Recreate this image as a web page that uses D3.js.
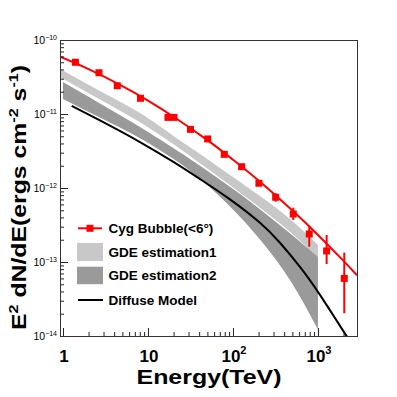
<!DOCTYPE html>
<html>
<head>
<meta charset="utf-8">
<script src="https://cdn.jsdelivr.net/npm/d3@7"></script>
<style>
  body { margin: 0; background: #fff; }
  text { font-family: "Liberation Sans", Arial, sans-serif; }
</style>
</head>
<body>
<div class="chart"></div>
<script>
// Cyg Bubble spectrum points (TeV, erg cm-2 s-1)
const cygE    = [1.40, 2.65, 4.35, 8.16, 17.2, 20.2, 31.6, 50.4, 79, 126.5, 202, 318, 512, 790, 1265, 2040];
const cygFlux = [5.0e-11, 3.61e-11, 2.41e-11, 1.63e-11, 9.0e-12, 9.0e-12, 6.2e-12, 4.6e-12, 2.85e-12, 1.94e-12, 1.16e-12, 7.5e-13, 4.45e-13, 2.39e-13, 1.41e-13, 6.0e-14];
const cygLow  = [5.0e-11, 3.61e-11, 2.41e-11, 1.63e-11, 9.0e-12, 9.0e-12, 6.2e-12, 4.6e-12, 2.85e-12, 1.94e-12, 1.16e-12, 6.53e-13, 3.7e-13, 1.61e-13, 9.4e-14, 2.03e-14];
const cygHigh = [5.0e-11, 3.61e-11, 2.41e-11, 1.63e-11, 9.0e-12, 9.0e-12, 6.2e-12, 4.6e-12, 2.85e-12, 1.94e-12, 1.16e-12, 8.48e-13, 5.42e-13, 3.06e-13, 2.32e-13, 1.34e-13];

// fitted curve through the points
const fitE    = [0.922, 2, 5, 10, 20, 50, 100, 200, 500, 1000, 2000, 2880];
const fitFlux = [5.95e-11, 4.04e-11, 2.385e-11, 1.52e-11, 9.19e-12, 4.43e-12, 2.41e-12, 1.26e-12, 4.95e-13, 2.32e-13, 1.035e-13, 6.61e-14];

// GDE estimation bands
const gde1E  = [0.922, 2.72, 8.05, 20.8, 40.9, 92.2, 207.8, 468, 1000];
const gde1Hi = [4.05e-11, 2.05e-11, 1.03e-11, 4.89e-12, 2.88e-12, 1.50e-12, 7.80e-13, 3.81e-13, 1.70e-13];
const gde1Lo = [3.16e-11, 1.576e-11, 7.75e-12, 3.78e-12, 2.16e-12, 1.09e-12, 5.42e-13, 2.57e-13, 1.14e-13];
const gde2E  = [1, 2.72, 8.05, 20.8, 40.9, 92.2, 207.8, 468, 1000];
const gde2Hi = [2.70e-11, 1.387e-11, 6.65e-12, 3.34e-12, 2.0e-12, 1.04e-12, 5.17e-13, 2.45e-13, 1.17e-13];
const gde2Lo = [1.60e-11, 8.97e-12, 4.70e-12, 2.39e-12, 1.33e-12, 5.64e-13, 2.02e-13, 5.73e-14, 1.22e-14];

// diffuse model
const diffE    = [1.266, 2.72, 8.05, 20.8, 40.9, 92.2, 207.8, 357, 614, 1056, 2254, 2512];
const diffFlux = [1.29e-11, 8.19e-12, 4.18e-12, 2.18e-12, 1.32e-12, 7.02e-13, 3.39e-13, 1.82e-13, 8.61e-14, 3.6e-14, 9.33e-15, 7.69e-15];

// axis ticks
const xMajor = [1, 10, 100, 1000];
const xLabels = [["1", ""], ["10", ""], ["10", "2"], ["10", "3"]];
const yMajor = [1e-10, 1e-11, 1e-12, 1e-13, 1e-14];
const yLabels = ["-10", "-11", "-12", "-13", "-14"];

const legendItems = ["Cyg Bubble(<6\u00b0)", "GDE estimation1", "GDE estimation2", "Diffuse Model"];

const W = 397, H = 397;
const margin = {left: 60, right: 40, top: 40, bottom: 61};
const red = "#ff0000", light = "#c8c8c8", dark = "#9a9a9a";

const svg = d3.select('.chart').append('svg').attr('width', W).attr('height', H);

const x = d3.scaleLog().domain([0.922, 2880]).range([margin.left, W - margin.right]);
const y = d3.scaleLog().domain([1e-14, 1e-10]).range([H - margin.bottom, margin.top]);

svg.append('clipPath').attr('id', 'plot')
	.append('rect')
	.attr('x', margin.left).attr('y', margin.top)
	.attr('width', W - margin.left - margin.right)
	.attr('height', H - margin.top - margin.bottom);

const plot = svg.append('g').attr('clip-path', 'url(#plot)');

function zip(a, b, c) { return a.map((v, i) => [v, b[i], c ? c[i] : null]); }

const band = d3.area()
	.x(d => x(d[0])).y0(d => y(d[2])).y1(d => y(d[1]))
	.curve(d3.curveNatural);
const line = d3.line().x(d => x(d[0])).y(d => y(d[1])).curve(d3.curveNatural);

plot.append('path').datum(zip(gde1E, gde1Hi, gde1Lo)).attr('d', band).attr('fill', light);
plot.append('path').datum(zip(gde2E, gde2Hi, gde2Lo)).attr('d', band).attr('fill', dark);
plot.append('path').datum(zip(diffE, diffFlux)).attr('d', line)
	.attr('fill', 'none').attr('stroke', '#000').attr('stroke-width', 2);
plot.append('path').datum(zip(fitE, fitFlux)).attr('d', line)
	.attr('fill', 'none').attr('stroke', red).attr('stroke-width', 2);

const pts = cygE.map((e, i) => ({e: e, f: cygFlux[i], lo: cygLow[i], hi: cygHigh[i]}));
plot.selectAll('.err').data(pts).enter().append('line')
	.attr('x1', d => x(d.e)).attr('x2', d => x(d.e))
	.attr('y1', d => y(d.lo)).attr('y2', d => y(d.hi))
	.attr('stroke', red).attr('stroke-width', 2);
plot.selectAll('.dot').data(pts).enter().append('rect')
	.attr('x', d => x(d.e) - 3.5).attr('y', d => y(d.f) - 3.5)
	.attr('width', 7).attr('height', 7).attr('fill', red);

// axes (ticks pointing inwards)
function minorTicks(p0, p1) {
	const t = [];
	for (let p = p0; p < p1; p++)
		for (let k = 2; k <= 9; k++) t.push(k * Math.pow(10, p));
	return t;
}
const xMinor = minorTicks(0, 3).concat([2000]);
const yMinor = minorTicks(-14, -10);
const xb = H - margin.bottom;

svg.append('g').attr('transform', `translate(0,${xb})`)
	.call(d3.axisBottom(x).tickValues(xMajor).tickSize(-8).tickSizeOuter(0).tickFormat(''));
svg.append('g').attr('transform', `translate(0,${xb})`)
	.call(d3.axisBottom(x).tickValues(xMinor).tickSize(-4).tickSizeOuter(0).tickFormat(''));
svg.append('g').attr('transform', `translate(${margin.left},0)`)
	.call(d3.axisLeft(y).tickValues(yMajor).tickSize(-8).tickSizeOuter(0).tickFormat(''));
svg.append('g').attr('transform', `translate(${margin.left},0)`)
	.call(d3.axisLeft(y).tickValues(yMinor).tickSize(-4).tickSizeOuter(0).tickFormat(''));
svg.selectAll('.tick line').attr('stroke', '#222');
svg.selectAll('.domain').remove();

svg.append('rect')
	.attr('x', margin.left + 0.5).attr('y', margin.top + 0.5)
	.attr('width', W - margin.left - margin.right).attr('height', H - margin.top - margin.bottom)
	.attr('fill', 'none').attr('stroke', '#333').attr('stroke-width', 1);

// tick labels
xMajor.forEach((v, i) => {
	const t = svg.append('text')
		.attr('x', x(v) + 1).attr('y', xb + 26)
		.attr('text-anchor', 'middle')
		.attr('font-size', 17).attr('font-weight', 'bold');
	t.append('tspan').text(xLabels[i][0]);
	if (xLabels[i][1]) t.append('tspan').attr('dy', -8).attr('font-size', 11).text(xLabels[i][1]);
});
yMajor.forEach((v, i) => {
	const t = svg.append('text')
		.attr('x', margin.left - 3).attr('y', y(v) + 4)
		.attr('text-anchor', 'end')
		.attr('font-size', 10.5);
	t.append('tspan').text('10');
	t.append('tspan').attr('dy', -4).attr('font-size', 7).text(yLabels[i].replace('-', '\u2212'));
});

// axis titles
svg.append('text')
	.attr('x', 209).attr('y', 384)
	.attr('text-anchor', 'middle')
	.attr('font-size', 20).attr('font-weight', 'bold')
	.attr('textLength', 145).attr('lengthAdjust', 'spacingAndGlyphs')
	.text('Energy(TeV)');

const yt = svg.append('text')
	.attr('transform', 'translate(25.5,197.5) rotate(-90)')
	.attr('text-anchor', 'middle')
	.attr('font-size', 20).attr('font-weight', 'bold')
	.attr('textLength', 265).attr('lengthAdjust', 'spacingAndGlyphs');
yt.append('tspan').text('E');
yt.append('tspan').attr('dy', -8).attr('font-size', 13).text('2');
yt.append('tspan').attr('dy', 8).text(' dN/dE(ergs cm');
yt.append('tspan').attr('dy', -8).attr('font-size', 13).text('-2');
yt.append('tspan').attr('dy', 8).text(' s');
yt.append('tspan').attr('dy', -8).attr('font-size', 13).text('-1');
yt.append('tspan').attr('dy', 8).text(')');

// legend
const lg = svg.append('g');
const rows = [228.3, 251.7, 275.4, 300];
lg.append('line').attr('x1', 78).attr('x2', 102).attr('y1', rows[0]).attr('y2', rows[0])
	.attr('stroke', red).attr('stroke-width', 2);
lg.append('rect').attr('x', 86.5).attr('y', rows[0] - 3.5).attr('width', 7).attr('height', 7).attr('fill', red);
lg.append('rect').attr('x', 77).attr('y', 243).attr('width', 26).attr('height', 18).attr('fill', light);
lg.append('rect').attr('x', 77).attr('y', 266.7).attr('width', 26).attr('height', 17.5).attr('fill', dark);
lg.append('line').attr('x1', 78).attr('x2', 103).attr('y1', rows[3]).attr('y2', rows[3])
	.attr('stroke', '#000').attr('stroke-width', 2);
lg.selectAll('.lt').data(legendItems).enter().append('text')
	.attr('x', 108.5).attr('y', (d, i) => rows[i] + 5)
	.attr('font-size', 13.5).attr('font-weight', 'bold')
	.text(d => d);
</script>
</body>
</html>
